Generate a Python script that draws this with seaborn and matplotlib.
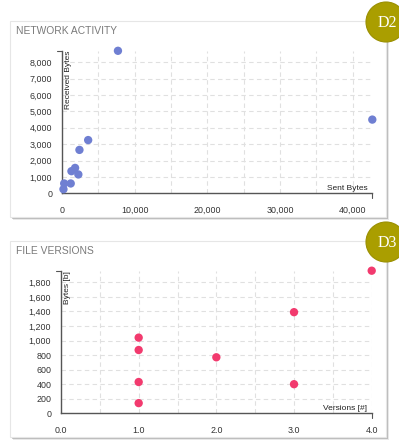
import matplotlib
matplotlib.use("Agg")
import matplotlib.pyplot as plt
import seaborn as sns
import pandas as pd
from matplotlib.patches import Rectangle, Circle
from matplotlib.ticker import MultipleLocator, FuncFormatter
from matplotlib.lines import Line2D

# Network activity: bytes sent vs. bytes received
sent_bytes = [200, 300, 1200, 1300, 1800, 2250, 2400, 3600, 7700, 42700]
received_bytes = [250, 600, 600, 1350, 1550, 1150, 2650, 3250, 8700, 4500]

# File versions: version count vs. file size
versions = [1, 1, 1, 1, 2, 3, 3, 4]
file_bytes = [140, 430, 870, 1040, 770, 400, 1390, 1960]

panel_titles = ["NETWORK ACTIVITY", "FILE VERSIONS"]
badges = ["D2", "D3"]
x_labels = ["Sent Bytes", "Versions [#]"]
y_labels = ["Received Bytes", "Bytes [b]"]

net_df = pd.DataFrame({"sent": sent_bytes, "received": received_bytes})
ver_df = pd.DataFrame({"versions": versions, "bytes": file_bytes})

W, H = 399, 441
sns.set_style("white")
plt.rcParams["font.family"] = ["Liberation Sans", "DejaVu Sans"]

fig = plt.figure(figsize=(W / 100, H / 100), dpi=100)
fig.patch.set_facecolor("white")


def px_box(x0, y0, x1, y1):
    return [x0 / W, 1 - y1 / H, (x1 - x0) / W, (y1 - y0) / H]


# background layer with the two cards
bg = fig.add_axes([0, 0, 1, 1], zorder=0)
bg.set_xlim(0, W)
bg.set_ylim(H, 0)
bg.axis("off")

cards = [(10, 21, 386, 217), (10, 241, 386, 437)]
for (x0, y0, x1, y1) in cards:
    for off, a in [(3, 0.15), (2, 0.35), (1, 0.45)]:
        bg.add_patch(Rectangle((x0 + off, y0 + off), x1 - x0, y1 - y0,
                               facecolor="#6a6a6a", edgecolor="none", alpha=a))
    bg.add_patch(Rectangle((x0, y0), x1 - x0, y1 - y0,
                           facecolor="white", edgecolor="#e6e6e6", linewidth=0.8))

for (x0, y0, _, _), title in zip(cards, panel_titles):
    bg.text(x0 + 6, y0 + 10, title, fontsize=7.4, color="#7a7a7a",
            ha="left", va="center")

axis_color = "#555555"


def style_axes(ax, xmaj, xmin, ymaj, xfmt, yfmt, xlabel, ylabel):
    for side in ("top", "right"):
        ax.spines[side].set_visible(False)
    for side in ("left", "bottom"):
        ax.spines[side].set_color(axis_color)
        ax.spines[side].set_linewidth(1.0)
    ax.set_facecolor("none")
    ax.xaxis.set_major_locator(MultipleLocator(xmaj))
    ax.xaxis.set_minor_locator(MultipleLocator(xmin))
    ax.yaxis.set_major_locator(MultipleLocator(ymaj))
    ax.xaxis.set_major_formatter(FuncFormatter(xfmt))
    ax.yaxis.set_major_formatter(FuncFormatter(yfmt))
    ax.tick_params(which="major", direction="out", length=5, width=0.8,
                   color=axis_color, labelsize=6.4, labelcolor="#333333", pad=2)
    ax.tick_params(axis="x", which="major", pad=4)
    ax.tick_params(which="minor", length=0)
    ax.grid(True, which="both", linestyle=(0, (4, 3)), color="#e0e0e0",
            linewidth=0.8)
    ax.set_axisbelow(True)
    ax.set_xlabel("")
    ax.set_ylabel("")
    ax.text(0.02, 1.0, ylabel, transform=ax.transAxes, rotation=90,
            ha="center", va="top", fontsize=6, color="#222222")
    ax.text(0.985, 0.012, xlabel, transform=ax.transAxes,
            ha="right", va="bottom", fontsize=6, color="#222222")
    # outer ticks at the ends of both domains
    bb = ax.get_position()
    tx = 5 / (bb.height * H)
    ty = 5 / (bb.width * W)
    ax.add_line(Line2D([1, 1], [0, -tx], transform=ax.transAxes,
                       color=axis_color, lw=0.8, clip_on=False))
    ax.add_line(Line2D([0, -ty], [1, 1], transform=ax.transAxes,
                       color=axis_color, lw=0.8, clip_on=False))


# top panel
ax1 = fig.add_axes(px_box(62, 50.8, 372.3, 193.3), zorder=2)
sns.scatterplot(data=net_df, x="sent", y="received", ax=ax1, color="#6f7fd2",
                s=36, edgecolor="none", clip_on=False, zorder=3)
ax1.set_xlim(0, max(sent_bytes))
ax1.set_ylim(0, max(received_bytes))
style_axes(ax1, 10000, 5000, 1000,
           lambda v, p: f"{v:,.0f}", lambda v, p: f"{v:,.0f}",
           x_labels[0], y_labels[0])

# bottom panel
ax2 = fig.add_axes(px_box(61, 270.7, 371.7, 413.3), zorder=2)
sns.scatterplot(data=ver_df, x="versions", y="bytes", ax=ax2, color="#f23a6e",
                s=36, edgecolor="none", clip_on=False, zorder=3)
ax2.set_xlim(0, max(versions))
ax2.set_ylim(0, max(file_bytes))
style_axes(ax2, 1.0, 0.5, 200,
           lambda v, p: f"{v:.1f}", lambda v, p: f"{v:,.0f}",
           x_labels[1], y_labels[1])

# badges on top of everything
ov = fig.add_axes([0, 0, 1, 1], zorder=5)
ov.set_xlim(0, W)
ov.set_ylim(H, 0)
ov.axis("off")
ov.patch.set_alpha(0)
for (cx, cy), label in zip([(386, 22), (386, 242)], badges):
    ov.add_patch(Circle((cx, cy), 20, facecolor="#aa9e00",
                        edgecolor="#9a8f00", linewidth=0.8))
    ov.text(cx + 1, cy + 1, label, fontsize=11.5, color="white",
            family=["Liberation Serif", "DejaVu Serif"],
            ha="center", va="center")

fig.savefig("out.png", dpi=100, facecolor="white")
